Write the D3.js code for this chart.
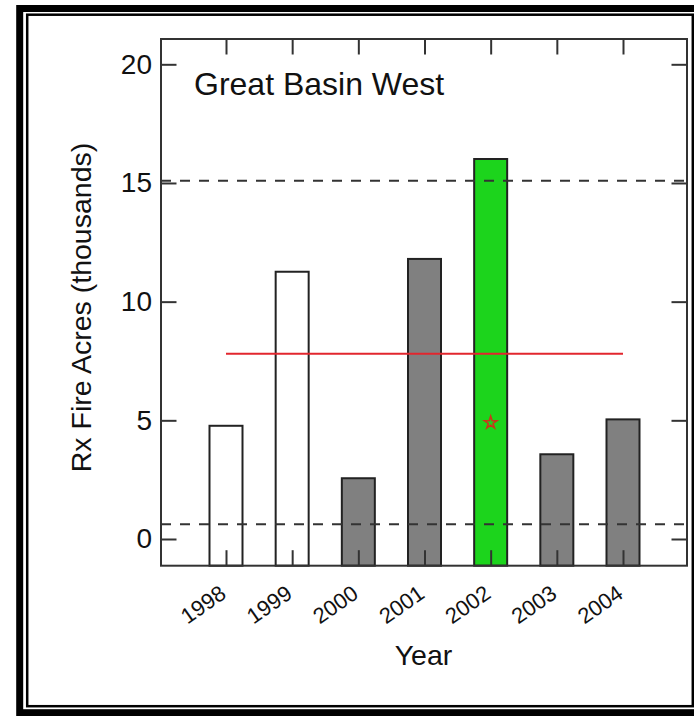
<!DOCTYPE html>
<html>
<head>
<meta charset="utf-8">
<script src="https://cdn.jsdelivr.net/npm/d3@7"></script>
<style>
  html, body { margin: 0; padding: 0; background: #fff; }
  text { font-family: "Liberation Sans", Arial, sans-serif; fill: #111; }
</style>
</head>
<body>
<div id="chart"></div>
<script>
//data
const years = [1998, 1999, 2000, 2001, 2002, 2003, 2004];
const acres = [4.77, 11.26, 2.56, 11.80, 16.01, 3.57, 5.04];   // thousands
const barKind = ["open", "open", "gray", "gray", "green", "gray", "gray"];
const meanAcres = 7.8;
const limits = [0.62, 15.09];      // dashed reference lines
const starYear = 2002;
const starValue = 4.9;
const yTicks = [0, 5, 10, 15, 20];

//layout
var width = 694;
var height = 716;
var plotL = 161, plotR = 687, plotT = 39, plotB = 565.7;
var tick = 15.5;

const svg = d3.select("#chart")
    .append("svg")
    .attr("width", width)
    .attr("height", height);

svg.append("rect").attr("width", width).attr("height", height).attr("fill", "#fff");

// double frame around the figure
svg.append("rect").attr("x", 19.7).attr("y", 8.5).attr("width", 680.6).attr("height", 704.2)
    .attr("fill", "none").attr("stroke", "#000").attr("stroke-width", 7);
svg.append("rect").attr("x", 27.2).attr("y", 14.7).attr("width", 665.6).attr("height", 691.5)
    .attr("fill", "none").attr("stroke", "#000").attr("stroke-width", 2.5);

var xScale = d3.scaleLinear().domain([1998, 2004]).range([226, 623]);
var yScale = d3.scaleLinear().domain([0, 20]).range([539, 64.3]);
var barW = 33;

const fills = { open: "#fff", gray: "#808080", green: "#1cd41c" };

//bars
svg.append("g").selectAll("rect").data(years).enter().append("rect")
    .attr("x", function(d) { return xScale(d) - barW / 2 })
    .attr("y", function(d, i) { return yScale(acres[i]) })
    .attr("width", barW)
    .attr("height", function(d, i) { return plotB - yScale(acres[i]) })
    .attr("fill", function(d, i) { return fills[barKind[i]] })
    .attr("stroke", "#222")
    .attr("stroke-width", 2);

//dashed limits
svg.append("g").selectAll("line").data(limits).enter().append("line")
    .attr("x1", plotL).attr("x2", plotR)
    .attr("y1", function(d) { return yScale(d) })
    .attr("y2", function(d) { return yScale(d) })
    .attr("stroke", "#333")
    .attr("stroke-width", 2)
    .attr("stroke-dasharray", "10,9");

//mean line
svg.append("line")
    .attr("x1", xScale(years[0])).attr("x2", xScale(years[years.length - 1]))
    .attr("y1", yScale(meanAcres)).attr("y2", yScale(meanAcres))
    .attr("stroke", "#e2262e")
    .attr("stroke-width", 2);

//star
svg.append("path")
    .attr("d", d3.symbol().type(d3.symbolStar).size(48)())
    .attr("transform", "translate(" + xScale(starYear) + "," + yScale(starValue) + ")")
    .attr("fill", "none")
    .attr("stroke", "#c8381a")
    .attr("stroke-width", 1.6);

//axes, ticks pointing inward on all sides
function styleAxis(g) {
    g.select(".domain").remove();
    g.selectAll(".tick line").attr("stroke", "#333").attr("stroke-width", 2);
}
svg.append("g").attr("transform", "translate(" + plotL + ",0)")
    .call(d3.axisLeft(yScale).tickValues(yTicks).tickSize(-tick).tickPadding(9))
    .call(styleAxis)
    .call(function(g) { g.selectAll("text").style("font-size", "28px").attr("fill", "#111") });
svg.append("g").attr("transform", "translate(" + plotR + ",0)")
    .call(d3.axisRight(yScale).tickValues(yTicks).tickSize(-tick).tickFormat(""))
    .call(styleAxis);
svg.append("g").attr("transform", "translate(0," + plotT + ")")
    .call(d3.axisTop(xScale).tickValues(years).tickSize(-tick).tickFormat(""))
    .call(styleAxis);
svg.append("g").attr("transform", "translate(0," + plotB + ")")
    .call(d3.axisBottom(xScale).tickValues(years).tickSize(-tick).tickFormat(d3.format("d")))
    .call(styleAxis)
    .call(function(g) {
        g.selectAll("text")
            .attr("x", 0).attr("y", 0).attr("dy", 0)
            .attr("transform", "translate(1,31) rotate(-35)")
            .style("text-anchor", "end")
            .style("font-size", "22px")
            .attr("fill", "#111");
    });

//plot frame
svg.append("rect").attr("x", plotL).attr("y", plotT)
    .attr("width", plotR - plotL).attr("height", plotB - plotT)
    .attr("fill", "none").attr("stroke", "#333").attr("stroke-width", 2);

//labels
svg.append("text").attr("x", 194).attr("y", 95)
    .style("font-size", "32px").text("Great Basin West");
svg.append("text").attr("x", 423.5).attr("y", 665)
    .attr("text-anchor", "middle").style("font-size", "28.5px").text("Year");
svg.append("text").attr("transform", "translate(91,307.5) rotate(-90)")
    .attr("text-anchor", "middle").style("font-size", "28.5px").text("Rx Fire Acres (thousands)");
</script>
</body>
</html>
